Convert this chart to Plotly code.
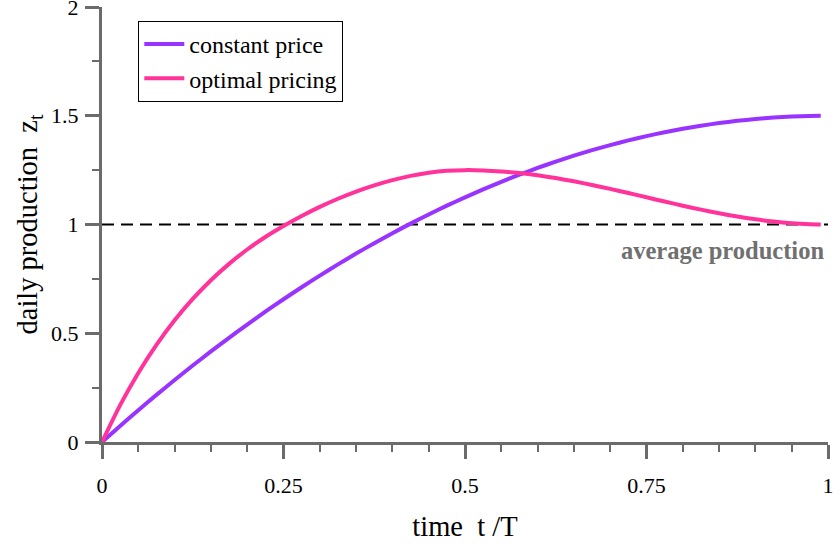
import plotly.graph_objects as go

# time grid (t/T)
t_vals = [0, 0.025, 0.05, 0.075, 0.1, 0.125, 0.15, 0.175, 0.2, 0.225, 0.25,
          0.275, 0.3, 0.325, 0.35, 0.375, 0.4, 0.425, 0.45, 0.475, 0.5,
          0.525, 0.55, 0.575, 0.6, 0.625, 0.65, 0.675, 0.7, 0.725, 0.75,
          0.775, 0.8, 0.825, 0.85, 0.875, 0.9, 0.925, 0.95, 0.975, 0.99]

# constant price: daily production
constant_price = [0, 0.0741, 0.1463, 0.2166, 0.285, 0.3516, 0.4163, 0.4791, 0.54,
                  0.5991, 0.6563, 0.7116, 0.765, 0.8166, 0.8663, 0.9141, 0.96,
                  1.0041, 1.0463, 1.0866, 1.125, 1.1616, 1.1963, 1.2291, 1.26,
                  1.2891, 1.3163, 1.3416, 1.365, 1.3866, 1.4063, 1.4241, 1.44,
                  1.4541, 1.4663, 1.4766, 1.485, 1.4916, 1.4963, 1.4991, 1.4999]

# optimal pricing: daily production
optimal_pricing = [0, 0.1693, 0.3171, 0.4463, 0.5593, 0.6578, 0.7439, 0.8191, 0.885,
                   0.9425, 0.9928, 1.039, 1.081, 1.1185, 1.1515, 1.18, 1.204,
                   1.2235, 1.238, 1.247, 1.25, 1.2485, 1.2439, 1.2364, 1.2261,
                   1.2134, 1.1985, 1.1818, 1.1636, 1.1446, 1.125, 1.1055, 1.0864,
                   1.0683, 1.0515, 1.0366, 1.0239, 1.0136, 1.0061, 1.0015, 1.0002]

# average production level
avg_x = [0, 1]
avg_y = [1, 1]

x_ticks = [0, 0.25, 0.5, 0.75, 1]
x_tick_labels = ["0", "0.25", "0.5", "0.75", "1"]
y_ticks = [0, 0.5, 1, 1.5, 2]
y_tick_labels = ["0", "0.5", "1", "1.5", "2"]

SERIF = "Liberation Serif, Times New Roman, serif"
AXIS_GRAY = "#6b6b6b"

fig = go.Figure()

fig.add_trace(go.Scatter(
    x=avg_x, y=avg_y, mode="lines", showlegend=False, hoverinfo="skip",
    line=dict(color="black", width=2, dash="12px,7px")))

fig.add_trace(go.Scatter(
    x=t_vals, y=constant_price, mode="lines", name="constant price",
    line=dict(color="#9933ff", width=4, shape="spline", smoothing=0.6)))

fig.add_trace(go.Scatter(
    x=t_vals, y=optimal_pricing, mode="lines", name="optimal pricing",
    line=dict(color="#ff3399", width=4, shape="spline", smoothing=0.6)))

fig.add_annotation(
    x=0.997, xref="paper", y=0.88, yref="y", text="<b>average production</b>",
    showarrow=False, xanchor="right", yanchor="middle",
    font=dict(family=SERIF, size=24.5, color="#707070"))

axis_common = dict(
    showline=True, linecolor=AXIS_GRAY, linewidth=3, mirror=False,
    showgrid=False, zeroline=False,
    ticks="outside", ticklen=14, tickwidth=3, tickcolor=AXIS_GRAY,
    tickfont=dict(family=SERIF, size=22, color="black"),
    ticklabeloverflow="allow",
)

fig.update_layout(
    width=833, height=546,
    margin=dict(l=102, r=5, t=7, b=104, autoexpand=False),
    paper_bgcolor="white", plot_bgcolor="white",
    xaxis=dict(
        range=[0, 1], tickvals=x_ticks, ticktext=x_tick_labels,
        minor=dict(dtick=0.05, ticks="outside", ticklen=7, tickwidth=2,
                   tickcolor=AXIS_GRAY, showgrid=False),
        ticklabelstandoff=8,
        title=dict(text="time  t /T", font=dict(family=SERIF, size=28.5, color="black"),
                   standoff=19),
        **axis_common),
    yaxis=dict(
        range=[0, 2], tickvals=y_ticks, ticktext=y_tick_labels,
        minor=dict(dtick=0.25, ticks="outside", ticklen=7, tickwidth=2,
                   tickcolor=AXIS_GRAY, showgrid=False),
        ticklabelstandoff=2,
        title=dict(text="daily production  z<sub>t</sub>",
                   font=dict(family=SERIF, size=28.5, color="black"), standoff=6),
        **axis_common),
    legend=dict(
        x=0.05, y=0.968, xanchor="left", yanchor="top",
        bgcolor="white", bordercolor="black", borderwidth=1,
        font=dict(family=SERIF, size=24, color="black"),
        itemwidth=40, tracegroupgap=0),
    showlegend=True,
)

fig.write_html("out.html", config={"displayModeBar": False},
               post_script="document.body.style.margin='0';")
